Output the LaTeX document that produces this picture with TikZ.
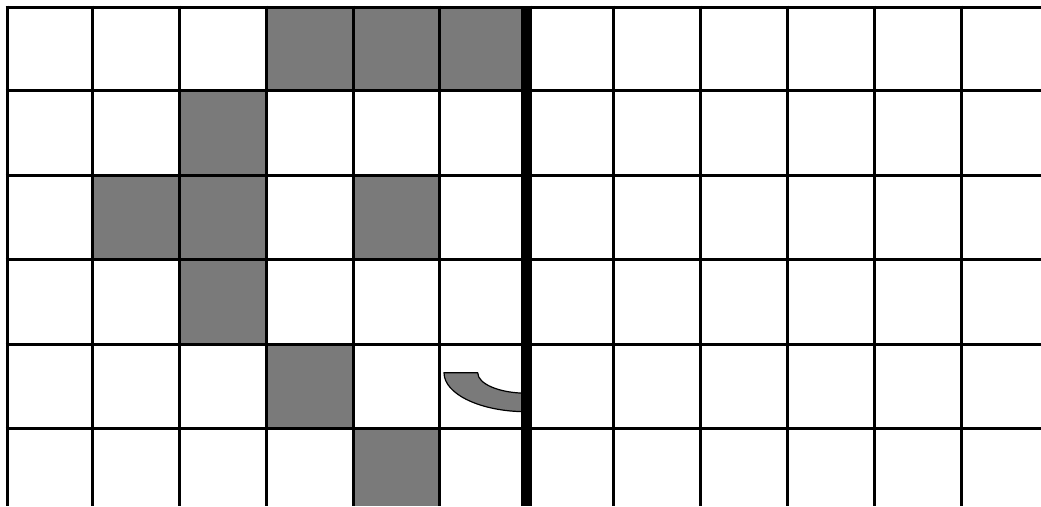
\documentclass[tikz,border=0pt]{standalone}
\definecolor{cellgray}{RGB}{122,122,122}
\tikzset{gridline/.style={line width=3pt,black},cellfill/.style={fill=cellgray}}
\begin{document}
\begin{tikzpicture}[x=1pt,y=-1pt]
\useasboundingbox (0,0) rectangle (1041,506);
% gray cells
\fill[cellfill] (266,7) rectangle (526.5,90.5);
\fill[cellfill] (179,90.5) rectangle (266,175);
\fill[cellfill] (92,175) rectangle (266,259.5);
\fill[cellfill] (353,175) rectangle (439.5,259.5);
\fill[cellfill] (179,259.5) rectangle (266,344);
\fill[cellfill] (266,344) rectangle (353,428);
\fill[cellfill] (353,428) rectangle (439.5,506);
% curved shape
\filldraw[fill=cellgray,draw=black,line width=1.2pt,line join=round]
  (444,372.7) arc[start angle=180,end angle=90,x radius=82.5,y radius=39]
  -- (526.5,393.2) arc[start angle=90,end angle=180,x radius=48.8,y radius=20.5]
  -- cycle;
% grid lines
\foreach \x in {7,92,179,266,353,439.5,613,700,787,874,961}
  \draw[gridline] (\x,5.5) -- (\x,506);
\foreach \y in {7,90.5,175,259.5,344,428}
  \draw[gridline] (5.5,\y) -- (1041,\y);
% thick divider
\draw[line width=11pt,black] (526.5,5.5) -- (526.5,506);
\end{tikzpicture}
\end{document}
